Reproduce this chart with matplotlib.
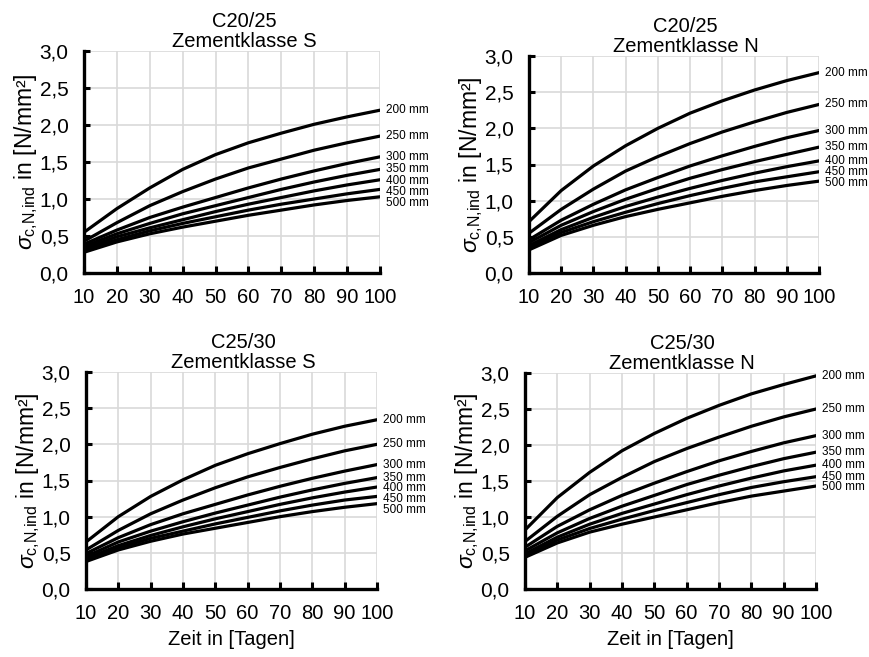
import numpy as np
import matplotlib
matplotlib.use('Agg')
import matplotlib.pyplot as plt
from matplotlib.ticker import FuncFormatter

plt.rcParams['font.family'] = ['Liberation Sans', 'DejaVu Sans']
plt.rcParams['mathtext.fontset'] = 'custom'
plt.rcParams['mathtext.rm'] = 'Liberation Sans'
plt.rcParams['mathtext.it'] = 'Liberation Sans:italic'

# time in days
days = [10, 20, 30, 40, 50, 60, 70, 80, 90, 100]
thickness = ['200 mm', '250 mm', '300 mm', '350 mm', '400 mm', '450 mm', '500 mm']

# sigma_c,N,ind [N/mm²], one row per wall thickness
c20_s = [
    [0.55, 0.87, 1.15, 1.40, 1.60, 1.76, 1.89, 2.01, 2.11, 2.20],
    [0.43, 0.68, 0.91, 1.10, 1.27, 1.42, 1.54, 1.66, 1.76, 1.85],
    [0.39, 0.58, 0.75, 0.89, 1.02, 1.15, 1.27, 1.38, 1.48, 1.57],
    [0.36, 0.53, 0.67, 0.80, 0.91, 1.02, 1.13, 1.23, 1.32, 1.40],
    [0.33, 0.49, 0.61, 0.72, 0.83, 0.93, 1.02, 1.11, 1.19, 1.26],
    [0.31, 0.45, 0.57, 0.67, 0.76, 0.85, 0.93, 1.00, 1.07, 1.13],
    [0.28, 0.42, 0.53, 0.62, 0.70, 0.78, 0.85, 0.92, 0.98, 1.03],
]
c20_n = [
    [0.71, 1.14, 1.48, 1.76, 2.00, 2.21, 2.38, 2.53, 2.66, 2.77],
    [0.55, 0.88, 1.16, 1.41, 1.61, 1.79, 1.95, 2.09, 2.22, 2.33],
    [0.46, 0.73, 0.95, 1.15, 1.32, 1.48, 1.62, 1.75, 1.87, 1.97],
    [0.42, 0.66, 0.85, 1.02, 1.17, 1.31, 1.43, 1.54, 1.64, 1.74],
    [0.38, 0.60, 0.77, 0.92, 1.05, 1.17, 1.28, 1.38, 1.47, 1.55],
    [0.35, 0.56, 0.71, 0.84, 0.96, 1.07, 1.17, 1.26, 1.33, 1.40],
    [0.32, 0.52, 0.66, 0.78, 0.88, 0.97, 1.06, 1.14, 1.21, 1.27],
]
c25_s = [
    [0.65, 1.00, 1.28, 1.51, 1.71, 1.87, 2.01, 2.14, 2.25, 2.34],
    [0.54, 0.81, 1.04, 1.23, 1.40, 1.55, 1.68, 1.80, 1.91, 2.00],
    [0.49, 0.71, 0.89, 1.04, 1.17, 1.30, 1.42, 1.53, 1.63, 1.72],
    [0.45, 0.65, 0.80, 0.93, 1.05, 1.16, 1.27, 1.37, 1.46, 1.54],
    [0.42, 0.60, 0.74, 0.86, 0.97, 1.07, 1.17, 1.26, 1.34, 1.41],
    [0.40, 0.57, 0.70, 0.80, 0.90, 0.99, 1.08, 1.16, 1.23, 1.28],
    [0.38, 0.54, 0.66, 0.76, 0.84, 0.92, 1.00, 1.07, 1.13, 1.18],
]
c25_n = [
    [0.82, 1.27, 1.62, 1.92, 2.16, 2.37, 2.55, 2.71, 2.84, 2.96],
    [0.66, 1.01, 1.31, 1.55, 1.77, 1.95, 2.11, 2.26, 2.39, 2.50],
    [0.58, 0.87, 1.10, 1.30, 1.47, 1.63, 1.78, 1.91, 2.03, 2.13],
    [0.53, 0.78, 0.98, 1.15, 1.30, 1.45, 1.58, 1.70, 1.81, 1.90],
    [0.49, 0.72, 0.90, 1.05, 1.18, 1.31, 1.43, 1.54, 1.64, 1.72],
    [0.46, 0.68, 0.84, 0.97, 1.09, 1.20, 1.31, 1.41, 1.49, 1.56],
    [0.44, 0.64, 0.79, 0.90, 1.00, 1.10, 1.20, 1.29, 1.36, 1.43],
]

panels = [
    ('C20/25\nZementklasse S', c20_s, (84, 51, 380, 273), False),
    ('C20/25\nZementklasse N', c20_n, (529, 56, 819, 273), False),
    ('C25/30\nZementklasse S', c25_s, (86, 372, 377, 589), True),
    ('C25/30\nZementklasse N', c25_n, (525, 373, 816, 589), True),
]

W, H = 869, 657
fig = plt.figure(figsize=(W / 100, H / 100), dpi=100)


def label_positions(ends, gap=0.15):
    """Push the end labels apart so they don't overlap (top to bottom)."""
    ys = []
    for v in ends:
        ys.append(v if not ys else min(v, ys[-1] - gap))
    return ys


for title, rows, (x0, y0, x1, y1), bottom in panels:
    ax = fig.add_axes([x0 / W, 1 - y1 / H, (x1 - x0) / W, (y1 - y0) / H])
    for row in rows:
        ax.plot(days, row, color='black', lw=2.3, solid_joinstyle='round', zorder=3)
    ends = [r[-1] for r in rows]
    for lab, v, yl in zip(thickness, ends, label_positions(ends)):
        ax.annotate(lab, xy=(days[-1], yl), xytext=(4, 0), textcoords='offset points',
                    va='center', ha='left', fontsize=8.5, annotation_clip=False)

    ax.set_xlim(10, 100)
    ax.set_ylim(0, 3.0)
    ax.set_xticks(np.arange(10, 101, 10))
    ax.set_yticks(np.arange(0, 3.01, 0.5))
    ax.yaxis.set_major_formatter(FuncFormatter(lambda v, p: f'{v:.1f}'.replace('.', ',')))
    ax.grid(True, color='#d9d9d9', lw=1.2, zorder=0)
    ax.set_axisbelow(True)
    for s in ('top', 'right'):
        ax.spines[s].set_visible(False)
    for s in ('left', 'bottom'):
        ax.spines[s].set_linewidth(2.4)
    ax.tick_params(axis='x', direction='in', length=5, width=2.2, labelsize=14.5, pad=11)
    ax.tick_params(axis='y', direction='in', length=4, width=2.2, labelsize=15, pad=11)

    ax.set_title(title, fontsize=14.5, linespacing=1.05, pad=3, x=0.54)
    ax.set_ylabel(r'$\sigma_{\mathrm{c{,}N{,}ind}}$ in [N/mm²]', fontsize=16.5, labelpad=0)
    if bottom:
        ax.set_xlabel('Zeit in [Tagen]', fontsize=14.5, labelpad=5)

fig.savefig('out.png', dpi=100)
